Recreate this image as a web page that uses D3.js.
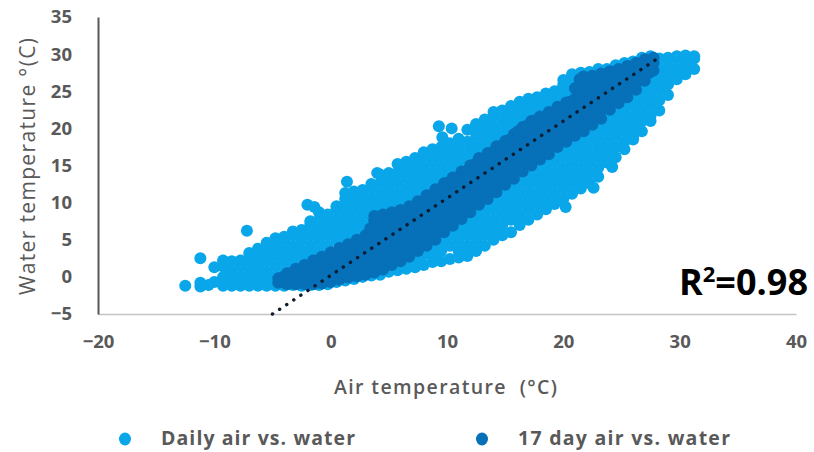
<!DOCTYPE html>
<html><head><meta charset="utf-8">
<script src="https://cdn.jsdelivr.net/npm/d3@7"></script>
<style>html,body{margin:0;padding:0;background:#fff}svg{display:block}</style>
</head><body><svg id="c" width="814" height="452"></svg>
<script>
const xTicks=[-20,-10,0,10,20,30,40];
const yTicks=[-5,0,5,10,15,20,25,30,35];
const seriesNames=["Daily air vs. water","17 day air vs. water"];
const xTitle="Air temperature  (°C)";
const yTitle="Water temperature °(C)";
const r2Label="0.98";
const trendX=[-5,28];
const trendY=[-5,29.3];
const dailyColumns=[
[-12.5,[-1.2]],[-11.2,[-1.3,-0.8,2.5]],
[-10.5,[-1.1]],[-10,[-0.7,1.3]],[-9.25,[-1.2,0,1.4,2.2]],[-8.5,[-1.2,-0.7,0.7,2.1]],
[-7.75,[-1.2,0,1.4,2.2]],[-7.2,[6.2]],[-7,[-1.2,-0.7,0.7,2.1,3.2]],[-6.25,[-1.2,0,1.4,2.8,3.8]],
[-5.5,[-1.2,-0.7,0.7,2.1,3.5,4.6]],[-4.75,[-1.2,0,1.4,2.8,4.2,5.2]],[-4,[-1.2,-0.7,0.7,2.1,3.5,4.9,5.4]],
[-3.25,[-1.1,0,1.4,2.8,4.2,5.6,6.1]],[-2.5,[-1.2,2.1,3.5,4.9,6.3]],[-2,[9.7]],[-1.75,[-1.1,2.8,4.2,5.6,7,7.5]],
[-1.4,[9.4]],[-1,[-1.1,3.5,4.9,6.3,7.7,8.7]],[-0.25,[-1,4.2,5.6,7,8.4]],[0.5,[-0.7,4.9,6.3,7.7,9.1,9.5]],
[1.25,[-0.5,4.2,5.6,7,8.4,9.8,10.5,11.3]],[1.4,[12.8]],[2,[-0.3,4.9,6.3,7.7,9.1,10.5,11.5]],
[2.75,[0,5.6,7,8.4,9.8,11.2,11.7]],[3.5,[0.2,6.3,7.7,9.1,10.5,11.9,12.5]],[4,[14]],
[4.25,[0.3,8.4,9.8,11.2,12.6,13.8]],[5,[0.7,9.1,10.5,11.9,13.3,14]],[5.75,[0.9,9.8,11.2,12.6,14,15.2]],
[6.5,[1.1,9.1,10.5,11.9,13.3,14.7,15.5]],[7.25,[1.3,2.8,11.2,12.6,14,15.4,16]],[8,[1.6,3,11.9,13.3,14.7,16.1,16.8]],
[8.75,[2,2.8,12.6,14,15.4,16.8,17.2]],[9.3,[20.3]],[9.5,[2.1,3.5,4.9,13.3,14.7,16.1,17.5]],[9.6,[18.8]],
[10.25,[2.4,4.2,5.6,14,15.4,16.8,18]],[10.4,[20]],[11,[2.6,3.5,4.9,6.3,14.7,16.1,17.5,18.6]],
[11.75,[2.8,4.2,5.6,7,15.4,16.8,18.2,19.8]],[12.5,[3.5,4.9,6.3,7.7,16.1,17.5,18.9,20.3,20.6]],
[13.25,[4.2,5.6,7,8.4,9.8,16.8,18.2,19.6,21,21.2]],[14,[5,6.3,7.7,9.1,10.5,17.5,18.9,20.3,21.7,22.2]],
[14.75,[5.6,7,8.4,9.8,11.2,18.2,19.6,21,22.4]],[15.5,[6,7.7,9.1,10.5,11.9,18.9,20.3,21.7,23]],
[16.25,[7,8.4,9.8,11.2,12.6,14,19.6,21,22.4,23.6]],[17,[7.7,9.1,10.5,11.9,13.3,14.7,20.3,21.7,23.1,24]],
[17.75,[8.4,9.8,11.2,12.6,14,15.4,21,22.4,23.8,24.2]],[18.5,[9.1,10.5,11.9,13.3,14.7,16.1,21.7,23.1,24.5,24.7]],
[19.25,[9.8,11.2,12.6,14,15.4,16.8,22.4,23.8,25]],[20,[10.5,11.9,13.3,14.7,16.1,17.5,23.1,24.5,25.9,26.5]],
[20.2,[9.4]],[20.75,[11.2,12.6,14,15.4,16.8,18.2,23.8,25.2,26.6,27.3]],[21.5,[11.9,13.3,14.7,16.1,17.5,18.9,27.5]],
[22.25,[12.6,14,15.4,16.8,18.2,19.6,27.6]],[22.6,[12]],[23,[13.5,14.7,16.1,17.5,18.9,20.3,28]],
[23.75,[15.4,16.8,18.2,19.6,21,28]],[24.2,[14.8]],[24.5,[16.1,17.5,18.9,20.3,21.7,28.5]],
[25.25,[17.2,18.2,19.6,21,22.4,23.8,28.8]],[26,[18.5,18.9,20.3,21.7,23.1,24.5,29]],
[26.75,[19.6,21,22.4,23.8,25.2,29.5]],[27.5,[21,21.7,23.1,24.5,25.9,27.3,29.7]],
[28.25,[22.4,23.8,25.2,26.6,28,29.4]],[29,[24.5,25.9,27.3,28.7,29.5]],[29.75,[26.6,28,29.4,29.7]],
[30.5,[27.3,28.7,29.8]],[31.25,[28,29.4,29.7]]
];
const dailyCoreColumns=[
[-2.1,[1.4,2.8]],[-0.6,[2.7,4.1]],[0.9,[3.9,5.3]],[2.4,[4.9,6.3]],[3.9,[7.7,9.1]],[4.6,[0.8,2.2,8.9]],
[5.4,[1.5,2.9,4.3,5.7,7.1,8.5,9.9]],[6.1,[1.5,2.9,9.7,11]],[6.9,[2.3,3.7,5.1,6.5,7.9,9.3,10.7]],[7.6,[2.3,3.7,10.9,12.3]],
[8.4,[3.4,4.8,6.2,7.6,9,10.4,11.8]],[9.1,[3.7,5.1,12.5,13.9]],[9.9,[5,6.4,7.8,9.2,10.6,12,13.4]],[10.6,[5.9,7.3,14.1,15.5]],
[11.4,[6.9,8.3,9.7,11.1,12.5,13.9,15.3]],[12.1,[7.7,9.1,15.7,17.1]],[12.9,[8.7,10.1,11.5,12.9,14.3,15.7,17.1]],[13.6,[9.5,10.9,17.4,18.8]],
[14.4,[10.4,11.8,13.2,14.6,16,17.4,18.8]],[15.1,[11.3,12.7,19,20.4]],[15.9,[12.2,13.6,15,16.4,17.8,19.2,20.6]],[16.6,[13.1,14.5,20.9,22.3]],
[17.4,[14,15.4,16.8,18.2,19.6,21,22.4]],[18.1,[14.8,16.2,22.3,23.7]],[18.9,[15.6,17,18.4,19.8,21.2,22.6,24]],[19.6,[16.5,17.9,23.6,25]],
[20.4,[17.2,18.6,20,21.4,22.8,24.2]],[21.1,[18,19.4,24.7,26.1]],[21.9,[18.6,20,21.4,22.8,24.2,25.6,27]],[22.6,[19.5,20.9]],
[23.4,[20.3,21.7,23.1,24.5,25.9,27.3]],[24.1,[21.5,22.9]],[24.9,[22.4,23.8,25.2,26.6,28]],[25.6,[23.2,24.6]],
[26.4,[24.2,25.6,27,28.4]],[27.1,[25.4,26.8]],[27.9,[26.4,27.8,29.2]]
];
const avgColumns=[
[-4.5,[-0.8,-0.2]],[-3.75,[-1,0,0.5]],[-3,[-1,0.2,1.1]],[-2.25,[-1,0.3,1.6]],[-1.5,[-1,0.2,1.4,2.2]],
[-0.75,[-0.9,0.3,1.7,2.7]],[0,[-0.7,0.7,2.1,3.3]],[0.75,[-0.4,1,2.4,3.9]],[1.5,[-0.1,1.3,2.7,4.4]],
[2.25,[0.1,1.5,2.9,4.3,5]],[3,[0.3,1.7,3.1,4.5,5.6]],[3.75,[0.6,2,3.4,4.8,6.2,7.6,8.2]],
[4.5,[1,2.4,3.8,5.2,6.6,8.4]],[5.25,[1.6,3,4.4,5.8,7.2,8.7]],[6,[2.1,3.5,4.9,6.3,7.7,9]],
[6.75,[2.7,4.1,5.5,6.9,8.3,9.5]],[7.5,[3.5,4.9,6.3,7.7,9.1,10.2]],[8.25,[4.2,5.6,7,8.4,9.8,11]],
[9,[5,6.4,7.8,9.2,10.6,11.8]],[9.75,[6,7.4,8.8,10.2,11.6,12.6]],[10.5,[6.9,8.3,9.7,11.1,12.5,13.4]],
[11.25,[7.8,9.2,10.6,12,13.4,14.2]],[12,[8.7,10.1,11.5,12.9,14.3,15]],[12.75,[9.7,11.1,12.5,13.9,15.3,16]],
[13.5,[10.5,11.9,13.3,14.7,16.1,16.7]],[14.25,[11.4,12.8,14.2,15.6,17,17.6]],[15,[12.4,13.8,15.2,16.6,18.3]],
[15.75,[13.2,14.6,16,17.4,18.8,19.2]],[16.5,[14.2,15.6,17,18.4,19.8,20.2]],[17.25,[15,16.4,17.8,19.2,21]],
[18,[15.8,17.2,18.6,20,21.6]],[18.75,[16.5,17.9,19.3,20.7,22.2]],[19.5,[17.5,18.9,20.3,21.7,22.9]],
[20.25,[18.2,19.6,21,22.4,23.5]],[21,[19,20.4,21.8,23.2,24,25.4]],[21.75,[19.6,21,22.4,23.8,25.2,27]],
[22.5,[20.5,21.9,23.3,24.7,26.1,27.1]],[23.25,[21.3,22.7,24.1,25.5,27.4]],[24,[22.5,23.9,25.3,26.7,27.7]],
[24.75,[23.4,24.8,26.2,28]],[25.5,[24.2,25.6,27,28.4]],[26.25,[25.2,26.6,28,28.8]],
[27,[26.4,27.8,29.3]],[27.75,[27.8,28.8,29.5]]
];
const avgFillColumns=[
[-4.1,[-0.6,0]],[-3.4,[-0.8,0.5]],[-2.6,[-0.6,0.7]],[-1.9,[-0.5,0.9]],[-1.1,[-0.4,1,2.2]],[-0.4,[0,1.4,2.6]],
[0.4,[0.3,1.7,3.1]],[1.1,[0.5,1.9,3.3]],[1.9,[0.8,2.2,3.6]],[2.6,[1,2.4,3.8,4.8]],[3.4,[1.3,2.7,4.1,5.5,6.5]],
[4.1,[1.7,3.1,4.5,5.9,7.3]],[4.9,[2.2,3.6,5,6.4,7.8]],[5.6,[2.6,4,5.4,6.8,8.2]],[6.4,[3.2,4.6,6,7.4,8.8]],
[7.1,[3.8,5.2,6.6,8,9.4]],[7.9,[4.5,5.9,7.3,8.7,10.1]],[8.6,[5.3,6.7,8.1,9.5,10.9]],[9.4,[6.2,7.6,9,10.4,11.8]],
[10.1,[7.1,8.5,9.9,11.3,12.7]],[10.9,[8,9.4,10.8,12.2,13.4]],[11.6,[8.9,10.3,11.7,13.1,14.2]],[12.4,[9.9,11.3,12.7,14.1,15.2]],
[13.1,[10.7,12.1,13.5,14.9,15.9]],[13.9,[11.6,13,14.4,15.8,16.8]],[14.6,[12.5,13.9,15.3,16.7,17.6]],[15.4,[13.5,14.9,16.3,17.7,18.5]],
[16.1,[14.4,15.8,17.2,18.6,19.6]],[16.9,[15.3,16.7,18.1,19.5,20.4]],[17.6,[16.1,17.5,18.9,20.3,21.1]],[18.4,[16.9,18.3,19.7,21.1]],
[19.1,[17.7,19.1,20.5,21.9]],[19.9,[18.6,20,21.4,22.8]],[20.6,[19.4,20.8,22.2,23.6]],[21.4,[20.1,21.5,22.9,24.3,25.7,26.6]],
[22.1,[20.8,22.2,23.6,25,26.4]],[22.9,[21.7,23.1,24.5,25.9,26.9]],[23.6,[22.7,24.1,25.5,26.9]],[24.4,[23.6,25,26.4,27.6]],
[25.1,[24.5,25.9,27.3]],[25.9,[25.6,27,28.2]],[26.6,[26.5,27.9,28.7]],[27.4,[27.5,28.7]]
];

const x=d3.scaleLinear().domain([-20,40]).range([98,796]);
const y=d3.scaleLinear().domain([-5,35]).range([314,17]);
const svg=d3.select("#c");
const flat=c=>c.flatMap(([px,ys])=>ys.map(v=>[px,v]));
const FONT='"Open Sans","Noto Sans",sans-serif', GREY="#595959", LIGHT="#0aa6ea", DARK="#0670b8";

const gx=svg.append("g").attr("transform","translate(0,314)")
 .call(d3.axisBottom(x).tickValues(xTicks).tickSize(0).tickPadding(21));
gx.select(".domain").attr("stroke","#c4c4c4").attr("stroke-width",1.5);
const gy=svg.append("g").attr("transform","translate(98,0)")
 .call(d3.axisLeft(y).tickValues(yTicks).tickSize(0).tickPadding(26));
gy.select(".domain").attr("stroke","#595959").attr("stroke-width",2);
svg.selectAll(".tick text").attr("font-family",FONT).attr("font-size",18.5).attr("font-weight",700).attr("fill",GREY);

svg.append("g").selectAll("circle").data(flat(dailyColumns.concat(dailyCoreColumns))).join("circle")
 .attr("cx",d=>x(d[0])).attr("cy",d=>y(d[1])).attr("r",6).attr("fill",LIGHT);
svg.append("g").selectAll("circle").data(flat(avgColumns.concat(avgFillColumns))).join("circle")
 .attr("cx",d=>x(d[0])).attr("cy",d=>y(d[1])).attr("r",6).attr("fill",DARK);

svg.append("path").datum(trendX.map((v,i)=>[v,trendY[i]]))
 .attr("d",d3.line().x(d=>x(d[0])).y(d=>y(d[1])))
 .attr("fill","none").attr("stroke","#0d1b2e").attr("stroke-width",3.4)
 .attr("stroke-linecap","round").attr("stroke-dasharray","0.1 8.4");

svg.append("text").attr("x",334).attr("y",394)
 .attr("font-family",FONT).attr("font-size",19.5).attr("font-weight",600).attr("fill",GREY)
 .attr("xml:space","preserve").attr("textLength",223).text(xTitle);
svg.append("text").attr("transform","translate(35,295) rotate(-90)")
 .attr("font-family",FONT).attr("font-size",21).attr("font-weight",500).attr("fill",GREY)
 .attr("textLength",257).text(yTitle);

const r2=svg.append("text").attr("x",679).attr("y",295).attr("font-family",FONT).attr("font-size",36).attr("font-weight",700).attr("fill","#000");
r2.append("tspan").text("R");
r2.append("tspan").attr("dy",-13).attr("font-size",22).text("2");
r2.append("tspan").attr("dy",13).text("="+r2Label);

const legendX=[125,482], legendTextX=[161,518], legendLen=[194,212], legendColors=[LIGHT,DARK];
seriesNames.forEach((n,i)=>{
 svg.append("ellipse").attr("cx",legendX[i]).attr("cy",439).attr("rx",6).attr("ry",6.5).attr("fill",legendColors[i]);
 svg.append("text").attr("x",legendTextX[i]).attr("y",445).attr("font-family",FONT).attr("font-size",19.5).attr("font-weight",700)
  .attr("fill",GREY).attr("textLength",legendLen[i]).text(n);
});
</script></body></html>
